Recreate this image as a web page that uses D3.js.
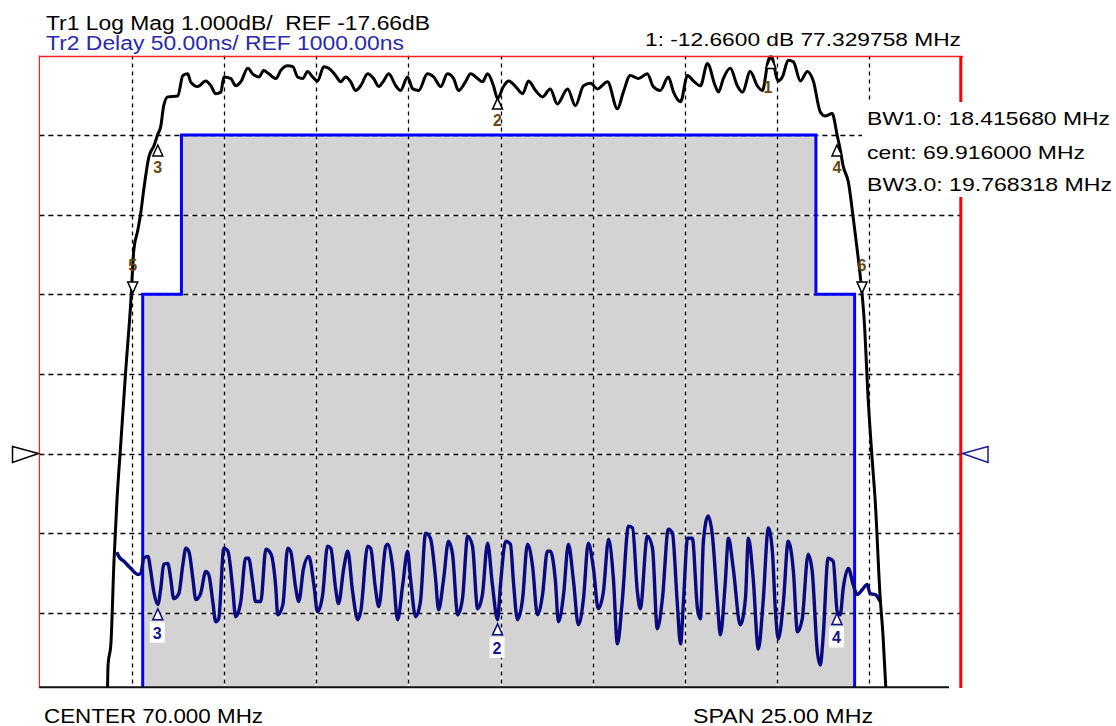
<!DOCTYPE html>
<html>
<head>
<meta charset="utf-8">
<script src="https://cdn.jsdelivr.net/npm/d3@7"></script>
<style>
body { margin: 0; background: #fff; }
svg { display: block; }
text { font-family: "Liberation Sans", Arial, sans-serif; white-space: pre; }
</style>
</head>
<body>
<div id="my_chart"></div>
<script>
// sweep / scale settings
const centerMHz = 70, spanMHz = 25
const refDb = -17.66, dbPerDiv = 1
const refNs = 1000, nsPerDiv = 50
const xDivs = 10, yDivs = 8, refDivFromBottom = 3

// Tr1 log mag trace [MHz, dB]
const tr1Trace = [
  [59.34,-20.9],[59.36,-20.33],[59.44,-20.04],[59.52,-19.03],[59.60,-18.27],[59.71,-17.51],[59.84,-16.62],
  [59.98,-15.74],[60.06,-15.10],[60.17,-14.85],[60.25,-14.63],[60.33,-14.34],[60.47,-13.93],[60.60,-13.80],
  [60.71,-13.65],[60.79,-13.55],[60.87,-13.29],[60.98,-13.18],[61.25,-13.17],[61.39,-12.91],[61.52,-12.89],
  [61.60,-12.99],[61.79,-13.05],[62.01,-12.98],[62.15,-13.04],[62.28,-13.14],[62.42,-13.12],[62.50,-12.93],
  [62.69,-12.95],[62.82,-13.04],[62.96,-12.99],[63.15,-12.82],[63.28,-12.89],[63.45,-12.93],[63.58,-12.85],
  [63.72,-12.89],[63.91,-12.95],[64.04,-12.85],[64.23,-12.79],[64.37,-12.80],[64.50,-12.93],[64.64,-12.95],
  [64.77,-12.86],[64.91,-12.93],[65.04,-12.98],[65.21,-12.80],[65.34,-12.82],[65.53,-12.91],[65.67,-12.99],
  [65.80,-12.93],[65.94,-12.99],[66.07,-13.10],[66.21,-13.04],[66.40,-12.89],[66.56,-12.95],[66.70,-13.05],
  [66.83,-12.98],[66.97,-12.89],[67.16,-13.04],[67.29,-13.10],[67.48,-12.93],[67.62,-13.08],[67.78,-13.10],
  [68.02,-12.89],[68.19,-12.93],[68.38,-13.05],[68.56,-12.89],[68.73,-12.95],[68.86,-13.10],[69.05,-12.99],
  [69.19,-12.89],[69.38,-12.95],[69.51,-12.99],[69.65,-12.89],[69.81,-13.04],[69.92,-13.20],[70.08,-13.05],
  [70.22,-12.98],[70.41,-13.05],[70.60,-13.14],[70.76,-12.98],[70.95,-13.10],[71.14,-13.18],[71.35,-13.08],
  [71.54,-13.27],[71.82,-13.08],[72.03,-13.29],[72.25,-13.04],[72.44,-13.01],[72.63,-13.08],[72.90,-12.99],
  [73.17,-13.33],[73.33,-13.12],[73.52,-12.91],[73.74,-12.95],[73.98,-12.89],[74.14,-13.05],[74.33,-13.10],
  [74.55,-12.93],[74.69,-13.12],[74.88,-13.24],[75.07,-12.91],[75.23,-12.98],[75.42,-13.04],[75.61,-12.76],
  [75.82,-13.04],[75.91,-13.12],[76.04,-12.95],[76.23,-12.82],[76.42,-13.04],[76.56,-13.12],[76.77,-12.86],
  [76.96,-13.04],[77.10,-13.10],[77.26,-12.72],[77.33,-12.66],[77.53,-12.98],[77.64,-12.93],[77.80,-12.72],
  [77.94,-12.74],[78.13,-12.98],[78.32,-12.86],[78.48,-12.98],[78.67,-13.37],[78.80,-13.42],[78.99,-13.39],
  [79.13,-13.67],[79.21,-13.84],[79.29,-14.05],[79.43,-14.25],[79.56,-14.69],[79.67,-15.10],[79.75,-15.42],
  [79.86,-15.99],[79.97,-17.00],[80.08,-17.76],[80.16,-18.27],[80.29,-19.45],[80.37,-19.95],[80.48,-20.9]
]

// Tr2 group delay trace [MHz, ns]
const tr2Trace = [
  [59.60,938.0],[59.65,935.4],[59.79,932.3],[59.98,927.8],[60.17,924.0],[60.25,924.7],[60.33,934.2],
  [60.44,935.4],[60.52,925.9],[60.60,913.3],[60.71,905.1],[60.79,915.2],[60.87,930.4],[60.98,931.0],
  [61.06,921.5],[61.14,908.9],[61.28,912.0],[61.39,930.4],[61.47,940.5],[61.55,938.6],[61.66,921.5],
  [61.74,908.2],[61.87,912.0],[62.01,925.9],[62.09,924.0],[62.20,907.0],[62.28,894.3],[62.36,896.2],
  [62.50,940.5],[62.61,938.6],[62.74,915.2],[62.82,897.5],[62.96,907.0],[63.09,934.2],[63.17,934.2],
  [63.28,919.6],[63.36,907.0],[63.50,907.0],[63.64,939.9],[63.77,937.3],[63.91,915.2],[63.96,898.7],
  [64.10,905.1],[64.23,940.5],[64.31,938.6],[64.45,915.2],[64.53,907.0],[64.66,927.8],[64.80,935.4],
  [64.94,917.7],[65.04,900.6],[65.18,911.4],[65.31,941.8],[65.40,940.5],[65.53,915.2],[65.61,905.7],
  [65.75,927.8],[65.86,938.6],[65.99,913.3],[66.13,895.6],[66.21,900.6],[66.40,941.8],[66.48,940.5],
  [66.61,915.2],[66.70,903.8],[66.89,941.8],[66.94,943.0],[67.08,927.8],[67.21,895.6],[67.35,917.7],
  [67.48,938.6],[67.56,921.5],[67.70,897.5],[67.83,907.0],[67.97,950.0],[68.10,946.8],[68.24,921.5],
  [68.32,901.9],[68.46,921.5],[68.59,944.9],[68.70,936.7],[68.84,898.7],[68.97,908.9],[69.11,948.1],
  [69.24,941.8],[69.38,902.5],[69.51,911.4],[69.65,943.7],[69.78,917.7],[69.92,895.6],[70.00,917.7],
  [70.14,944.9],[70.27,943.0],[70.35,919.6],[70.46,895.6],[70.60,908.9],[70.73,943.0],[70.87,929.1],
  [71.00,898.7],[71.14,911.4],[71.27,938.6],[71.35,938.6],[71.49,919.6],[71.57,894.3],[71.71,911.4],
  [71.84,943.0],[71.98,919.6],[72.11,892.4],[72.25,908.9],[72.38,943.7],[72.52,927.8],[72.65,902.5],
  [72.79,913.3],[72.93,946.2],[73.06,921.5],[73.17,880.4],[73.30,907.0],[73.47,954.4],[73.58,953.2],
  [73.71,913.3],[73.79,902.5],[73.98,948.1],[74.12,940.5],[74.25,889.9],[74.39,908.9],[74.55,952.5],
  [74.66,950.0],[74.79,907.0],[74.88,880.4],[74.96,907.0],[75.07,946.8],[75.20,946.8],[75.34,902.5],
  [75.42,896.2],[75.50,944.9],[75.63,960.8],[75.74,949.4],[75.88,907.0],[75.96,886.1],[76.09,917.7],
  [76.18,946.8],[76.31,927.8],[76.50,892.4],[76.64,908.9],[76.72,946.8],[76.85,921.5],[76.99,877.2],
  [77.12,907.0],[77.26,953.2],[77.37,938.6],[77.45,902.5],[77.53,883.5],[77.67,907.0],[77.80,944.9],
  [77.94,925.9],[78.05,888.0],[78.18,896.2],[78.34,936.7],[78.45,925.9],[78.59,875.3],[78.67,867.1],
  [78.75,886.1],[78.88,934.2],[79.02,932.3],[79.13,900.6],[79.21,898.7],[79.29,915.2],[79.43,927.8],
  [79.56,917.7],[79.67,911.4],[79.81,914.6],[79.94,917.7],[80.02,912.0],[80.16,911.4],[80.29,907.0]
]

// limit mask (Tr1, dB)
const maskFreq = [60.3, 60.3, 61.35, 61.35, 78.55, 78.55, 79.6, 79.6]
const maskDb = [-21.5, -15.66, -15.66, -13.66, -13.66, -15.66, -15.66, -21.5]

// markers
const tr1Markers = [
  { id: "1", f: 77.33, v: -12.66, dir: "up" },
  { id: "2", f: 69.92, v: -13.17, dir: "up" },
  { id: "3", f: 60.71, v: -13.76, dir: "up" },
  { id: "4", f: 79.12, v: -13.76, dir: "up" },
  { id: "5", f: 60.03, v: -15.62, dir: "down" },
  { id: "6", f: 79.80, v: -15.62, dir: "down" }
]
const tr2Markers = [
  { id: "3", f: 60.71, v: 902.5 },
  { id: "2", f: 69.92, v: 893.0 },
  { id: "4", f: 79.12, v: 899.5 }
]

// texts
const tr1Title = "Tr1 Log Mag 1.000dB/  REF -17.66dB"
const tr2Title = "Tr2 Delay 50.00ns/ REF 1000.00ns"
const markerReadout = "1: -12.6600 dB 77.329758 MHz"
const bwLines = ["BW1.0: 18.415680 MHz", "cent: 69.916000 MHz", "BW3.0: 19.768318 MHz"]
const centerLabel = "CENTER 70.000 MHz"
const spanLabel = "SPAN 25.00 MHz"

let svg = d3.select("#my_chart")
    .append("svg")
    .attr("width", 1116)
    .attr("height", 726)

let pLeft = 39.4, pRight = 961.6, pTop = 55.5, pBottom = 692.3, clipBottom = 687

let x = d3.scaleLinear()
    .domain([centerMHz - spanMHz / 2, centerMHz + spanMHz / 2])
    .range([pLeft, pRight])

let dbTop = refDb + (yDivs - refDivFromBottom) * dbPerDiv
let yDb = d3.scaleLinear()
    .domain([dbTop - yDivs * dbPerDiv, dbTop])
    .range([pBottom, pTop])

let nsTop = refNs + (yDivs - refDivFromBottom) * nsPerDiv
let yNs = d3.scaleLinear()
    .domain([nsTop - yDivs * nsPerDiv, nsTop])
    .range([pBottom, pTop])

svg.append("clipPath").attr("id", "plotclip")
    .append("rect")
    .attr("x", pLeft).attr("y", pTop)
    .attr("width", pRight - pLeft).attr("height", clipBottom - pTop)

let plot = svg.append("g").attr("clip-path", "url(#plotclip)")

// gray mask area + blue outline
let maskPts = maskFreq.map((f, i) => [f, maskDb[i]])
plot.append("path")
    .datum(maskPts)
    .attr("d", d3.area().x(d => x(d[0])).y0(yDb(-21.5)).y1(d => yDb(d[1])))
    .style("fill", "#d3d3d3")

// grid
let xGrid = d3.range(1, xDivs).map(i => x.domain()[0] + i * spanMHz / xDivs)
let yGrid = d3.range(1, yDivs).map(i => dbTop - i * dbPerDiv)

let grid = plot.append("g")
grid.selectAll(".vg-w").data(xGrid).enter().append("line")
    .attr("x1", d => Math.round(x(d)) + 0.5).attr("x2", d => Math.round(x(d)) + 0.5)
    .attr("y1", pTop).attr("y2", clipBottom)
    .style("stroke", "#fff").style("stroke-width", 1.3)
grid.selectAll(".vg-b").data(xGrid).enter().append("line")
    .attr("x1", d => Math.round(x(d)) + 0.5).attr("x2", d => Math.round(x(d)) + 0.5)
    .attr("y1", pTop).attr("y2", clipBottom)
    .style("stroke", "#000").style("stroke-width", 1.3)
    .style("stroke-dasharray", "4,4")
grid.selectAll(".hg-w").data(yGrid).enter().append("line")
    .attr("x1", pLeft).attr("x2", pRight)
    .attr("y1", d => Math.round(yDb(d)) + 0.5).attr("y2", d => Math.round(yDb(d)) + 0.5)
    .style("stroke", "#fff").style("stroke-width", 1.3)
grid.selectAll(".hg-b").data(yGrid).enter().append("line")
    .attr("x1", pLeft).attr("x2", pRight)
    .attr("y1", d => Math.round(yDb(d)) + 0.5).attr("y2", d => Math.round(yDb(d)) + 0.5)
    .style("stroke", "#000").style("stroke-width", 1.3)
    .style("stroke-dasharray", "5,4")

plot.append("path")
    .datum(maskPts)
    .attr("d", d3.line().x(d => x(d[0])).y(d => yDb(d[1])))
    .style("fill", "none")
    .style("stroke", "#0000ff")
    .style("stroke-width", 3)

// traces
plot.append("path")
    .datum(tr2Trace)
    .attr("d", d3.line().curve(d3.curveMonotoneX).x(d => x(d[0])).y(d => yNs(d[1])))
    .style("fill", "none")
    .style("stroke", "#0a0a80")
    .style("stroke-width", 3.4)
    .style("stroke-linejoin", "round")

plot.append("path")
    .datum(tr1Trace)
    .attr("d", d3.line().curve(d3.curveMonotoneX).x(d => x(d[0])).y(d => yDb(d[1])))
    .style("fill", "none")
    .style("stroke", "#000")
    .style("stroke-width", 3)
    .style("stroke-linejoin", "round")

// markers on Tr1
function tri(px, py, dir) {
    if (dir == "up") return `M${px},${py} L${px - 5},${py + 11} L${px + 5},${py + 11} Z`
    return `M${px},${py} L${px - 5},${py - 11} L${px + 5},${py - 11} Z`
}

let m1 = svg.append("g").selectAll("g").data(tr1Markers).enter().append("g")
m1.append("path")
    .attr("d", d => tri(x(d.f), yDb(d.v) + 2, d.dir))
    .style("fill", "#fff").style("stroke", "#000").style("stroke-width", 1.5)
m1.append("text")
    .attr("x", d => x(d.f) - (d.id == "1" ? 3 : 0))
    .attr("y", d => d.dir == "up" ? yDb(d.v) + (d.id == "1" ? 37 : 30) : yDb(d.v) - 20)
    .attr("text-anchor", "middle")
    .style("font-size", "16px").style("font-weight", "bold")
    .style("fill", "#6a4512")
    .text(d => d.id)

// markers on Tr2
let m2 = svg.append("g").selectAll("g").data(tr2Markers).enter().append("g")
m2.append("path")
    .attr("d", d => tri(x(d.f), yNs(d.v), "up"))
    .style("fill", "#fff").style("stroke", "#0a0a80").style("stroke-width", 1.5)
m2.append("rect")
    .attr("x", d => x(d.f) - 8).attr("y", d => yNs(d.v) + 13)
    .attr("width", 15).attr("height", 21)
    .style("fill", "#fff")
m2.append("text")
    .attr("x", d => x(d.f) - 0.5)
    .attr("y", d => yNs(d.v) + 30)
    .attr("text-anchor", "middle")
    .style("font-size", "16px").style("font-weight", "bold")
    .style("fill", "#14148c")
    .text(d => d.id)

// frame
svg.append("line").attr("x1", pLeft).attr("x2", pLeft).attr("y1", pTop).attr("y2", 688)
    .style("stroke", "#ff2020").style("stroke-width", 1.2)
svg.append("line").attr("x1", pLeft - 0.5).attr("x2", pRight + 1.5).attr("y1", 56.5).attr("y2", 56.5)
    .style("stroke", "#ff2020").style("stroke-width", 1.6)
svg.append("line").attr("x1", pRight - 0.8).attr("x2", pRight - 0.8).attr("y1", 56).attr("y2", 688)
    .style("stroke", "#ff0000").style("stroke-width", 3)
svg.append("line").attr("x1", pLeft).attr("x2", 949).attr("y1", 687.3).attr("y2", 687.3)
    .style("stroke", "#111").style("stroke-width", 2)

// reference arrows
let yRef = yDb(refDb)
svg.append("path")
    .attr("d", `M${pLeft - 1},${yRef} L12.5,${yRef - 7} L12.5,${yRef + 9} Z`)
    .style("fill", "#fff").style("stroke", "#000").style("stroke-width", 1.5)
svg.append("path")
    .attr("d", `M${pRight + 1},${yRef} L988,${yRef - 7} L988,${yRef + 9} Z`)
    .style("fill", "#fff").style("stroke", "#1c1c9a").style("stroke-width", 1.5)

// header texts
svg.append("text").attr("x", 46).attr("y", 30)
    .attr("textLength", 384).attr("lengthAdjust", "spacingAndGlyphs")
    .style("font-size", "19.5px").style("fill", "#000")
    .text(tr1Title)
svg.append("rect").attr("x", 42).attr("y", 34).attr("width", 366).attr("height", 20).style("fill", "#fff")
svg.append("text").attr("x", 46).attr("y", 50)
    .attr("textLength", 358).attr("lengthAdjust", "spacingAndGlyphs")
    .style("font-size", "19.5px").style("fill", "#2a2aa8")
    .text(tr2Title)

svg.append("text").attr("x", 645).attr("y", 46)
    .attr("textLength", 316).attr("lengthAdjust", "spacingAndGlyphs")
    .style("font-size", "19px").style("fill", "#000")
    .text(markerReadout)

svg.append("rect").attr("x", 862).attr("y", 102).attr("width", 254).attr("height", 95).style("fill", "#fff")
let bwLen = [243, 218, 245]
let bwY = [125, 159, 191]
bwLines.forEach((t, i) => {
    svg.append("text").attr("x", 867).attr("y", bwY[i])
        .attr("textLength", bwLen[i]).attr("lengthAdjust", "spacingAndGlyphs")
        .style("font-size", "19px").style("fill", "#000")
        .text(t)
})

svg.append("text").attr("x", 44).attr("y", 723)
    .attr("textLength", 219).attr("lengthAdjust", "spacingAndGlyphs")
    .style("font-size", "20px").style("fill", "#000")
    .text(centerLabel)
svg.append("text").attr("x", 693).attr("y", 723)
    .attr("textLength", 180).attr("lengthAdjust", "spacingAndGlyphs")
    .style("font-size", "20px").style("fill", "#000")
    .text(spanLabel)
</script>
</body>
</html>
